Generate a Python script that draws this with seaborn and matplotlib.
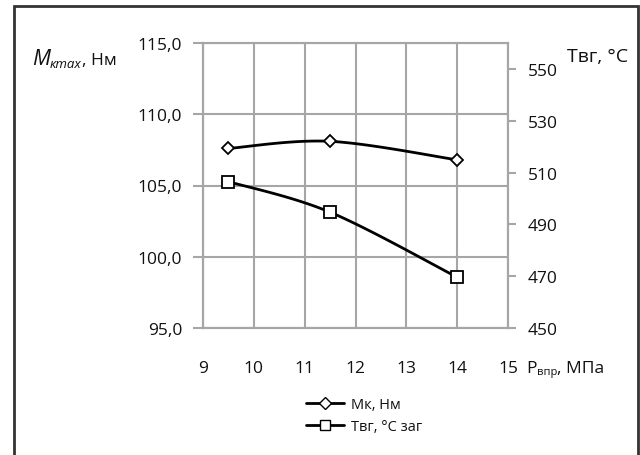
import numpy as np
import matplotlib
matplotlib.use("Agg")
import matplotlib.pyplot as plt
from matplotlib.lines import Line2D
from matplotlib.patches import Rectangle
import seaborn as sns

# data
p_inj = [9.5, 11.5, 14.0]            # Рвпр, МПа
torque = [107.6, 108.1, 106.8]       # Мк, Нм
t_gas = [506.5, 494.7, 469.6]        # Твг, °С

x_ticks = [9, 10, 11, 12, 13, 14, 15]
left_ticks = [95, 100, 105, 110, 115]
right_ticks = [450, 470, 490, 510, 530, 550]


def smooth(xs, ys, n=40):
    # Excel-like smoothed line: bezier segments with catmull-rom control points
    p = np.column_stack([xs, ys]).astype(float)
    k = len(p)
    out = []
    for i in range(k - 1):
        p0 = p[max(i - 1, 0)]
        p1 = p[i]
        p2 = p[i + 1]
        p3 = p[min(i + 2, k - 1)]
        c1 = p1 + (p2 - p0) / 6
        c2 = p2 - (p3 - p1) / 6
        t = np.linspace(0, 1, n)[:, None]
        seg = (1 - t) ** 3 * p1 + 3 * (1 - t) ** 2 * t * c1 + 3 * (1 - t) * t ** 2 * c2 + t ** 3 * p2
        out.append(seg if i == 0 else seg[1:])
    out = np.vstack(out)
    return out[:, 0], out[:, 1]


sns.set_style("white")
plt.rcParams['font.family'] = ['Open Sans', 'DejaVu Sans']
plt.rcParams['text.color'] = '#111111'
plt.rcParams['xtick.labelcolor'] = '#111111'
plt.rcParams['ytick.labelcolor'] = '#111111'

fig = plt.figure(figsize=(6.4, 4.56), dpi=100)
ax = fig.add_axes([203 / 640, 1 - 329 / 456, 305 / 640, 285 / 456])
ax2 = ax.twinx()

grid_c = '#a6a6a6'
fs = 12.5
ax.set_xlim(9, 15)
ax.set_ylim(95, 115)
ax2.set_ylim(450, 560)
ax.set_xticks(x_ticks)
ax.set_yticks(left_ticks)
ax.set_yticklabels([f"{v:.1f}".replace('.', ',') for v in left_ticks])
ax2.set_yticks(right_ticks)
ax.grid(True, color=grid_c, lw=1.5)
ax.set_axisbelow(True)

for a in (ax, ax2):
    for s in a.spines.values():
        s.set_color(grid_c)
        s.set_linewidth(1.5)
ax.tick_params(axis='x', direction='out', length=5, width=1.5, color=grid_c, pad=18, labelsize=fs)
ax.tick_params(axis='y', direction='out', length=7, width=1.5, color=grid_c, pad=8, labelsize=fs)
ax2.tick_params(axis='y', direction='out', length=6, width=1.5, color=grid_c, pad=8, labelsize=fs)

# curves
sx, sy = smooth(p_inj, torque)
sns.lineplot(x=sx, y=sy, ax=ax, sort=False, estimator=None, color='black', lw=2)
ax.plot(p_inj, torque, ls='none', marker='D', ms=6.5, mfc='white', mec='black', mew=1.3, zorder=5)

sx, sy = smooth(p_inj, t_gas)
sns.lineplot(x=sx, y=sy, ax=ax2, sort=False, estimator=None, color='black', lw=2)
ax2.plot(p_inj, t_gas, ls='none', marker='s', ms=8, mfc='white', mec='black', mew=1.3, zorder=5)

ax.set_xlabel('')
ax.set_ylabel('')
ax2.set_ylabel('')

renderer = fig.canvas.get_renderer()


def text_run(x_px, parts):
    # place pieces of text one after another, each with its own size / baseline
    for txt, y_px, size, style in parts:
        t = fig.text(x_px / 640, 1 - y_px / 456, txt, fontsize=size, style=style, va='baseline')
        x_px = t.get_window_extent(renderer).x1


# axis titles
text_run(32, [('M', 65, 15.5, 'italic'), ('кmax', 68, 9.5, 'italic'), (', Нм', 65, fs, 'normal')])
fig.text(567 / 640, 1 - 62 / 456, 'Твг, °С', fontsize=14, va='baseline')
text_run(526, [('Р', 373, fs, 'normal'), ('впр', 375, 8, 'normal'), (', МПа', 373, fs, 'normal')])

handles = [
    Line2D([0], [0], color='black', lw=2, marker='D', ms=6, mfc='white', mec='black'),
    Line2D([0], [0], color='black', lw=2, marker='s', ms=7.5, mfc='white', mec='black'),
]
fig.legend(handles, ['Мк, Нм', 'Твг, °С заг'], loc='upper left',
           bbox_to_anchor=(293 / 640, 1 - 385 / 456), frameon=False,
           handlelength=2.6, handletextpad=0.5, fontsize=10.5, labelspacing=0.5)

# outer frame
fig.add_artist(Rectangle((14 / 640, -0.05), 624 / 640, 1.05 - 7 / 456,
                         transform=fig.transFigure, fill=False, ec='#333333', lw=2, clip_on=False))

fig.savefig('out.png', dpi=100)
